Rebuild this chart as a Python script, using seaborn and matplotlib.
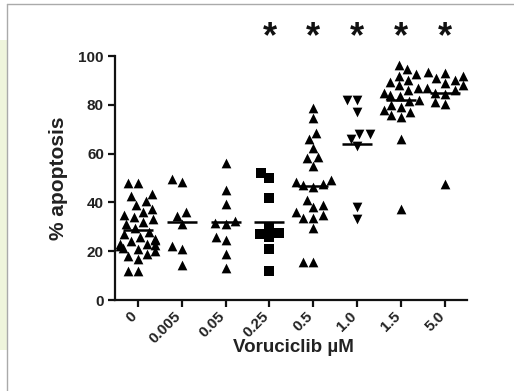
import pandas as pd
import seaborn as sns
import matplotlib.pyplot as plt
from matplotlib.patches import Rectangle
from matplotlib.lines import Line2D

# data (% apoptosis per sample)
doses = ['0', '0.005', '0.05', '0.25', '0.5', '1.0', '1.5', '5.0']
dose_0 = [48, 48, 43.5, 42.5, 40.5, 39, 37.5, 36, 35, 34, 33, 32, 31, 29.5, 28, 27,
          26, 25, 24.5, 24, 23, 23, 22.5, 22, 21.5, 21, 20, 19, 18, 17, 12, 12]
dose_0005 = [49.5, 48.5, 36, 34.5, 31, 22, 21, 14.5]
dose_005 = [56, 45, 39.5, 32.5, 31.5, 31, 26, 24.5, 19, 13]
dose_025 = [52, 50, 42, 30, 27.5, 27, 26, 21, 12]
dose_05 = [78.5, 74.5, 68.5, 66, 62.5, 58.5, 58, 55, 49, 48.5, 47.5, 47, 46.5,
           41, 39, 38, 36, 35, 33.5, 33.5, 29.5, 15.5, 15.5]
dose_10 = [82, 82, 77, 68, 68, 66, 63, 38, 33]
dose_15 = [96.5, 94.5, 92.5, 92, 90, 89.5, 88, 87, 86, 85, 84, 83.5, 82, 81.5,
           80, 79, 78, 77, 76, 75, 66, 37.5]
dose_50 = [93.5, 93, 92, 91, 90, 89, 88, 87, 86, 85, 84.5, 81, 80.5, 47.5]
group_markers = ['^', '^', '^', 's', '^', 'v', '^', '^']
significant = ['0.25', '0.5', '1.0', '1.5', '5.0']

values = [dose_0, dose_0005, dose_005, dose_025, dose_05, dose_10, dose_15, dose_50]
df = pd.concat([pd.DataFrame({'dose': d, 'pct': v, 'marker': m})
                for d, v, m in zip(doses, values, group_markers)], ignore_index=True)

sns.set_theme(style='ticks')
plt.rcParams['font.family'] = ['Liberation Sans', 'DejaVu Sans']

fig = plt.figure(figsize=(5.14, 3.91), dpi=100)

# page decoration: pale strip on the left and thin grey frame
fig.patches.append(Rectangle((0, 41 / 391), 7 / 514, 310 / 391, transform=fig.transFigure,
                             facecolor='#eff5dc', edgecolor='none'))
fig.add_artist(Line2D([7 / 514, 7 / 514], [0, 1 - 4 / 391], color='#aaaaaa', lw=1))
fig.add_artist(Line2D([7 / 514, 1], [1 - 4 / 391, 1 - 4 / 391], color='#aaaaaa', lw=1))

ax = fig.add_axes([115 / 514, 91 / 391, 352 / 514, 244 / 391])

for m, sub in df.groupby('marker'):
    sns.swarmplot(data=sub, x='dose', y='pct', order=doses, marker=m, color='black',
                  size=7, linewidth=0, clip_on=False, warn_thresh=1, ax=ax)

sns.pointplot(data=df, x='dose', y='pct', order=doses, estimator='mean', errorbar=None,
              linestyle='none', marker='_', markersize=22, markeredgewidth=1.8,
              color='black', ax=ax)

for d in significant:
    ax.text(doses.index(d), 103.5, '*', ha='center', va='baseline',
            fontsize=26, fontweight='bold', color='#111111')

ax.set_ylim(0, 100)
ax.set_xlim(-0.52, 7.5)
ax.set_yticks(range(0, 101, 20))
sns.despine(ax=ax)
for s in ['left', 'bottom']:
    ax.spines[s].set_linewidth(1.6)
    ax.spines[s].set_color('#111111')
ax.tick_params(axis='both', length=5, width=1.6, color='#111111', labelsize=11,
               labelcolor='#222222', pad=3)
ax.tick_params(axis='x', pad=7)
for lab in ax.get_yticklabels():
    lab.set_fontweight('bold')
ax.set_xticks(range(len(doses)))
ax.set_xticklabels(doses, rotation=45, ha='right', va='baseline', rotation_mode='anchor',
                   fontweight='bold')

ax.set_xlabel('Voruciclib µM', fontsize=13.5, fontweight='bold', color='#222222', va='center')
ax.set_ylabel('% apoptosis', fontsize=15, fontweight='bold', color='#222222', va='center')
ax.xaxis.set_label_coords(0.508, -47 / 244)
ax.yaxis.set_label_coords(-57 / 352, 0.5)

fig.savefig('out.png', dpi=100)
